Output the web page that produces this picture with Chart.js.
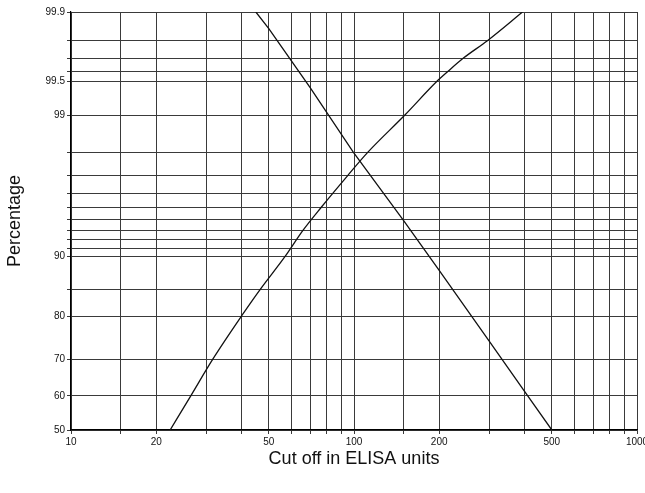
<!DOCTYPE html>
<html>
<head>
    <title>Cut off in ELISA units</title>
    <script src="https://cdn.jsdelivr.net/npm/chart.js"></script>
    <style>
        html, body { margin: 0; padding: 0; background: #ffffff; }
        #wrap { width: 645px; height: 493px; }
    </style>
</head>
<body>
    <div id="wrap"><canvas id="grafico" width="645" height="493"></canvas></div>
    <script>
        // ejes
        var xGrid = [10, 15, 20, 30, 40, 50, 60, 70, 80, 90, 100, 150, 200, 300, 400, 500, 600, 700, 800, 900, 1000];
        var xLabels = [10, 20, 50, 100, 200, 500, 1000];
        var yGrid = [50, 60, 70, 80, 85, 90, 91, 92, 93, 94, 95, 96, 97, 98, 99, 99.5, 99.6, 99.7, 99.8, 99.9];
        var yLabels = [50, 60, 70, 80, 90, 99, 99.5, 99.9];

        // curva ascendente
        var subeX = [22.4, 26.5, 31.7, 40, 46.5, 57, 66, 76.5, 95, 112, 151, 196, 215, 243, 296, 394];
        var subeY = [50, 60, 70, 80, 85, 90, 93, 95, 97, 98, 99, 99.5, 99.6, 99.7, 99.8, 99.9];

        // recta descendente
        var bajaX = [45, 50, 70, 99.4, 150, 200, 300, 400, 500];
        var bajaY = [99.9, 99.85, 99.43, 98, 93.9, 88.1, 74.5, 61.3, 50];

        // inversa de la normal (Abramowitz-Stegun 26.2.23)
        function probit(pct) {
            var p = pct / 100;
            var q = p < 0.5 ? p : 1 - p;
            var t = Math.sqrt(-2 * Math.log(q));
            var z = t - (2.515517 + 0.802853 * t + 0.010328 * t * t) /
                (1 + 1.432788 * t + 0.189269 * t * t + 0.001308 * t * t * t);
            return p < 0.5 ? -z : z;
        }

        class ProbitScale extends Chart.Scale {
            determineDataLimits() {
                this.min = this.options.min;
                this.max = this.options.max;
            }
            buildTicks() {
                return yGrid.map(function (v) { return { value: v }; });
            }
            configure() {
                super.configure();
                this._zMin = probit(this.min);
                this._zMax = probit(this.max);
            }
            getPixelForValue(v) {
                return this.getPixelForDecimal((probit(v) - this._zMin) / (this._zMax - this._zMin));
            }
            getValueForPixel(px) {
                return this.min + (this.max - this.min) * this.getDecimalForPixel(px);
            }
        }
        ProbitScale.id = 'probit';
        ProbitScale.defaults = {};
        Chart.register(ProbitScale);

        function puntos(xs, ys) {
            var out = [];
            for (var i = 0; i < xs.length; i++) out.push({ x: xs[i], y: ys[i] });
            return out;
        }

        var fuenteTicks = { family: "'Liberation Sans Narrow', 'Liberation Sans', Arial, sans-serif", size: 10 };
        var fuenteTitulo = { family: "'Liberation Sans', Arial, sans-serif", size: 18 };

        new Chart(document.getElementById('grafico'), {
            type: 'line',
            data: {
                datasets: [
                    {
                        data: puntos(subeX, subeY),
                        borderColor: '#111',
                        borderWidth: 1.3,
                        pointRadius: 0,
                        cubicInterpolationMode: 'monotone',
                        fill: false
                    },
                    {
                        data: puntos(bajaX, bajaY),
                        borderColor: '#111',
                        borderWidth: 1.3,
                        pointRadius: 0,
                        tension: 0,
                        fill: false
                    }
                ]
            },
            options: {
                responsive: false,
                animation: false,
                events: [],
                layout: { padding: { top: 12, right: 8, left: 0, bottom: 0 } },
                plugins: { legend: { display: false }, tooltip: { enabled: false } },
                scales: {
                    x: {
                        type: 'logarithmic',
                        min: 10,
                        max: 1000,
                        afterBuildTicks: function (scale) {
                            scale.ticks = xGrid.map(function (v) { return { value: v }; });
                        },
                        afterFit: function (scale) {
                            scale.height = 63;
                            scale.paddingRight = 0;
                            scale.paddingLeft = 0;
                        },
                        grid: { color: '#3a3a3a', lineWidth: 1, tickLength: 4 },
                        border: { color: '#000', width: 1.2 },
                        ticks: {
                            autoSkip: false,
                            maxRotation: 0,
                            padding: 2,
                            color: '#111',
                            font: fuenteTicks,
                            callback: function (v) { return xLabels.indexOf(v) >= 0 ? String(v) : ''; }
                        },
                        title: {
                            display: true,
                            text: 'Cut off in ELISA units',
                            color: '#111',
                            font: fuenteTitulo,
                            padding: { top: 0, bottom: 23 }
                        }
                    },
                    y: {
                        type: 'probit',
                        position: 'left',
                        min: 50,
                        max: 99.9,
                        afterFit: function (scale) {
                            scale.width = 71;
                            scale.paddingTop = 0;
                            scale.paddingBottom = 0;
                        },
                        grid: { color: '#3a3a3a', lineWidth: 1, tickLength: 4 },
                        border: { color: '#000', width: 1.2 },
                        ticks: {
                            autoSkip: false,
                            padding: 2,
                            color: '#111',
                            font: fuenteTicks,
                            callback: function (v) { return yLabels.indexOf(v) >= 0 ? String(v) : ''; }
                        },
                        title: {
                            display: true,
                            text: 'Percentage',
                            color: '#111',
                            font: fuenteTitulo,
                            padding: { top: 4, bottom: 0 }
                        }
                    }
                }
            }
        });
    </script>
</body>
</html>
